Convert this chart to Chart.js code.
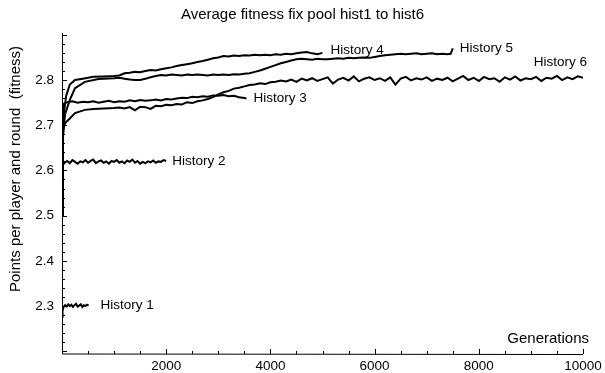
<!DOCTYPE html>
<html>
<head>
<meta charset="utf-8">
<script src="https://cdn.jsdelivr.net/npm/chart.js@4/dist/chart.umd.min.js"></script>
<style>
  html, body { margin: 0; padding: 0; background: #fff; }
  #wrap { width: 605px; height: 373px; }
</style>
</head>
<body>
<div id="wrap"><canvas id="chart" width="605" height="373"></canvas></div>
<script>
var title = "Average fitness fix pool hist1 to hist6";
var xTitle = "Generations";
var yTitle = "Points per player and round  (fitness)";

var xTicks = [2000, 4000, 6000, 8000, 10000];
var yTicks = [2.3, 2.4, 2.5, 2.6, 2.7, 2.8];
var yTickLabels = ["2.3", "2.4", "2.5", "2.6", "2.7", "2.8"];

var names = ["History 1", "History 2", "History 3", "History 4", "History 5", "History 6"];

var h1Gen = [0, 10, 30, 60, 90, 120, 150, 180, 210, 240, 270, 300, 330, 360, 390, 420, 450, 480, 510];
var h1Fit = [2.276, 2.290, 2.298, 2.302, 2.299, 2.304, 2.300, 2.303, 2.298, 2.302, 2.305, 2.299, 2.301, 2.304, 2.298, 2.302, 2.300, 2.303, 2.301];

var h2Gen = [0, 15, 50, 100, 150, 200, 250, 300, 350, 400, 450, 500, 550, 600, 650, 700, 750, 800, 850, 900, 950, 1000,
  1050, 1100, 1150, 1200, 1250, 1300, 1350, 1400, 1450, 1500, 1550, 1600, 1650, 1700, 1750, 1800, 1850, 1900, 1950, 2000];
var h2Fit = [2.500, 2.612, 2.617, 2.621, 2.616, 2.623, 2.619, 2.615, 2.620, 2.618, 2.623, 2.617, 2.621, 2.624, 2.616, 2.620, 2.622, 2.617, 2.620, 2.615, 2.621, 2.619,
  2.623, 2.617, 2.620, 2.616, 2.622, 2.619, 2.624, 2.617, 2.621, 2.615, 2.619, 2.616, 2.620, 2.618, 2.622, 2.617, 2.620, 2.619, 2.623, 2.621];

var h3Gen = [0, 10, 40, 100, 200, 300, 400, 500, 600, 700, 800, 900, 1000, 1100, 1200, 1300, 1400, 1500, 1600, 1700, 1800, 1900,
  2000, 2100, 2200, 2300, 2400, 2500, 2600, 2700, 2800, 2900, 3000, 3100, 3200, 3300, 3400, 3500, 3540];
var h3Fit = [2.500, 2.700, 2.748, 2.751, 2.753, 2.750, 2.752, 2.751, 2.753, 2.750, 2.752, 2.754, 2.751, 2.753, 2.752, 2.755, 2.753, 2.756, 2.754, 2.755, 2.757, 2.755,
  2.758, 2.757, 2.759, 2.761, 2.760, 2.763, 2.762, 2.764, 2.763, 2.766, 2.765, 2.767, 2.764, 2.765, 2.762, 2.760, 2.759];

var h4Gen = [0, 15, 40, 80, 150, 250, 400, 600, 800, 1000, 1100, 1200, 1300, 1400, 1500, 1600, 1700, 1800, 1900, 2000,
  2100, 2200, 2300, 2400, 2500, 2600, 2700, 2800, 2900, 3000, 3100, 3200, 3300, 3400, 3500, 3600, 3700, 3800, 3900, 4000,
  4100, 4200, 4300, 4400, 4500, 4600, 4700, 4800, 4900, 5000];
var h4Fit = [2.500, 2.660, 2.730, 2.765, 2.790, 2.800, 2.803, 2.807, 2.808, 2.809, 2.810, 2.815, 2.816, 2.818, 2.817, 2.820, 2.822, 2.821, 2.824, 2.826,
  2.828, 2.831, 2.833, 2.835, 2.837, 2.840, 2.842, 2.845, 2.848, 2.850, 2.853, 2.852, 2.854, 2.853, 2.855, 2.854, 2.856, 2.855, 2.856, 2.855,
  2.857, 2.856, 2.858, 2.857, 2.859, 2.861, 2.862, 2.859, 2.857, 2.860];

var h5Gen = [0, 20, 60, 150, 250, 440, 700, 1000, 1100, 1200, 1300, 1400, 1500, 1600, 1700, 1800, 1900, 2000,
  2100, 2200, 2300, 2400, 2500, 2600, 2700, 2800, 2900, 3000, 3100, 3200, 3300, 3400, 3500, 3600, 3700, 3800, 3900, 4000,
  4100, 4200, 4300, 4400, 4500, 4600, 4700, 4800, 4900, 5000, 5100, 5200, 5300, 5400, 5500, 5600, 5700, 5800, 5900, 6000,
  6100, 6200, 6300, 6400, 6500, 6600, 6700, 6800, 6900, 7000, 7100, 7200, 7300, 7400, 7460, 7500];
var h5Fit = [2.500, 2.680, 2.725, 2.756, 2.782, 2.796, 2.802, 2.804, 2.805, 2.803, 2.801, 2.800, 2.800, 2.803, 2.806, 2.809, 2.811, 2.810,
  2.812, 2.811, 2.810, 2.812, 2.811, 2.812, 2.811, 2.810, 2.812, 2.811, 2.812, 2.811, 2.813, 2.812, 2.814, 2.815, 2.818, 2.821, 2.825, 2.829,
  2.833, 2.837, 2.840, 2.843, 2.846, 2.847, 2.846, 2.845, 2.847, 2.846, 2.846, 2.847, 2.848, 2.847, 2.849, 2.848, 2.849, 2.850, 2.849, 2.851,
  2.853, 2.855, 2.856, 2.857, 2.858, 2.857, 2.858, 2.859, 2.857, 2.858, 2.859, 2.857, 2.858, 2.857, 2.858, 2.870];

var h6Gen = [0, 20, 60, 150, 250, 440, 600, 800, 1000, 1100, 1200, 1300, 1400, 1500, 1600, 1700, 1800, 1900, 2000,
  2100, 2200, 2300, 2400, 2500, 2600, 2700, 2800, 2900, 3000, 3100, 3200, 3300, 3400, 3500, 3600, 3700, 3800, 3900, 4000,
  4100, 4200, 4300, 4400, 4500, 4600, 4700, 4800, 4900, 5000, 5100, 5200, 5300, 5400, 5500, 5600, 5700, 5800, 5900, 6000,
  6100, 6200, 6300, 6400, 6500, 6600, 6700, 6800, 6900, 7000, 7100, 7200, 7300, 7400, 7500, 7600, 7700, 7800, 7900, 8000,
  8100, 8200, 8300, 8400, 8500, 8600, 8700, 8800, 8900, 9000, 9100, 9200, 9300, 9400, 9500, 9600, 9700, 9800, 9900, 10000];
var h6Fit = [2.500, 2.690, 2.705, 2.715, 2.727, 2.734, 2.736, 2.737, 2.738, 2.739, 2.737, 2.740, 2.733, 2.741, 2.740, 2.736, 2.743, 2.742, 2.745,
  2.744, 2.747, 2.746, 2.751, 2.749, 2.753, 2.755, 2.758, 2.762, 2.768, 2.773, 2.776, 2.781, 2.783, 2.786, 2.789, 2.790, 2.793, 2.791, 2.795,
  2.796, 2.799, 2.797, 2.801, 2.796, 2.803, 2.799, 2.804, 2.798, 2.802, 2.806, 2.792, 2.801, 2.805, 2.799, 2.808, 2.797, 2.803, 2.806, 2.800,
  2.804, 2.798, 2.806, 2.790, 2.803, 2.807, 2.799, 2.804, 2.801, 2.806, 2.798, 2.803, 2.800, 2.805, 2.797, 2.803, 2.809, 2.800, 2.805, 2.798,
  2.807, 2.802, 2.804, 2.796, 2.806, 2.801, 2.808, 2.799, 2.804, 2.802, 2.807, 2.798, 2.805, 2.803, 2.809, 2.800, 2.806, 2.802, 2.808, 2.805];

var gens = [h1Gen, h2Gen, h3Gen, h4Gen, h5Gen, h6Gen];
var fits = [h1Fit, h2Fit, h3Fit, h4Fit, h5Fit, h6Fit];

var font = "'Liberation Sans', Arial, sans-serif";
var ink = "#000";

function toPoints(g, f) {
  return g.map(function (x, i) { return { x: x, y: f[i] }; });
}

var datasets = names.map(function (name, i) {
  return {
    label: name,
    data: toPoints(gens[i], fits[i]),
    borderColor: ink,
    borderWidth: 2,
    pointRadius: 0,
    tension: 0,
    fill: false
  };
});

// label offsets from each curve's last point: [dx, dy, align]
var labelOffsets = [[12, 0, 'left'], [6, 0, 'left'], [7, 0, 'left'], [8, -3, 'left'], [7, 0, 'left'], [4, -15, 'right']];

var decor = {
  id: 'decor',
  afterDraw: function (chart) {
    var ctx = chart.ctx;
    var xs = chart.scales.x, ys = chart.scales.y;
    var a = chart.chartArea;
    var x0 = xs.getPixelForValue(0);
    var yb = a.bottom;
    ctx.save();
    ctx.strokeStyle = ink;
    ctx.lineWidth = 1;
    // axes
    ctx.beginPath();
    ctx.moveTo(x0 + 0.5, a.top);
    ctx.lineTo(x0 + 0.5, yb);
    ctx.lineTo(a.right, yb + 0.5);
    ctx.stroke();
    // x ticks (inward)
    ctx.beginPath();
    for (var g = 500; g <= 10000; g += 500) {
      var px = Math.round(xs.getPixelForValue(g)) + 0.5;
      var len = xTicks.indexOf(g) >= 0 ? 5 : 3;
      ctx.moveTo(px, yb);
      ctx.lineTo(px, yb - len);
    }
    // y ticks (inward)
    for (var k = 0; k <= 35; k++) {
      var v = 2.2 + k * 0.02;
      if (v < ys.min || v > ys.max) continue;
      var py = Math.round(ys.getPixelForValue(v)) + 0.5;
      var major = (k % 5 === 0);
      ctx.moveTo(x0, py);
      ctx.lineTo(x0 + (major ? 5 : 3), py);
    }
    ctx.stroke();

    ctx.fillStyle = ink;
    ctx.font = "13.5px " + font;
    // x tick labels
    ctx.textAlign = 'center';
    ctx.textBaseline = 'middle';
    xTicks.forEach(function (t) {
      ctx.fillText(String(t), xs.getPixelForValue(t), yb + 12);
    });
    // y tick labels
    ctx.textAlign = 'right';
    yTicks.forEach(function (t, i) {
      ctx.fillText(yTickLabels[i], x0 - 8, ys.getPixelForValue(t));
    });
    // series labels
    chart.data.datasets.forEach(function (ds, i) {
      var last = ds.data[ds.data.length - 1];
      var off = labelOffsets[i];
      var lx = xs.getPixelForValue(last.x) + off[0];
      var ly = ys.getPixelForValue(last.y) + off[1];
      ctx.textAlign = off[2];
      if (off[2] === 'right') lx = a.right + off[0];
      ctx.fillText(ds.label, lx, ly);
    });
    // x title
    ctx.font = "15px " + font;
    ctx.textAlign = 'right';
    ctx.fillText(xTitle, a.right + 6, yb - 15);
    // title
    ctx.textAlign = 'center';
    ctx.fillText(title, chart.width / 2, 15);
    // y title
    ctx.translate(16, 169);
    ctx.rotate(-Math.PI / 2);
    ctx.fillText(yTitle, 0, 0);
    ctx.restore();
  }
};

var chart = new Chart('chart', {
  type: 'line',
  data: { datasets: datasets },
  options: {
    responsive: false,
    animation: false,
    layout: { padding: { left: 62, right: 22, top: 33, bottom: 19 } },
    plugins: { legend: { display: false }, tooltip: { enabled: false }, title: { display: false } },
    scales: {
      x: { type: 'linear', min: 0, max: 10000, display: false },
      y: { type: 'linear', min: 2.194, max: 2.904, display: false }
    }
  },
  plugins: [decor]
});
</script>
</body>
</html>
